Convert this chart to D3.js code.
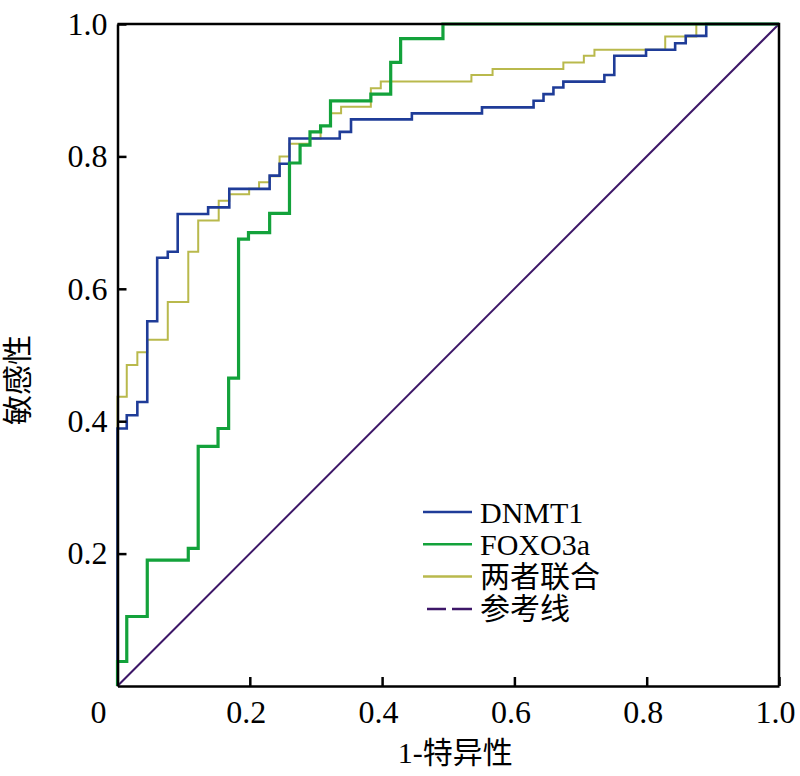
<!DOCTYPE html>
<html>
<head>
<meta charset="utf-8">
<script src="https://cdn.jsdelivr.net/npm/d3@7"></script>
<style>
    body { margin: 0; background: #ffffff; }
    text { font-family: "Liberation Serif", "Noto Sans CJK SC", serif; fill: #000000; }
    .axis path, .axis line { stroke: #000000; stroke-width: 2.5; }
</style>
</head>
<body>
<div id="graph"></div>
<script>
    // ROC step vertices (1 - specificity, sensitivity)
    var dnmt1Fpr = [0, 0, 0.014, 0.030, 0.045, 0.060, 0.076, 0.091, 0.137, 0.169, 0.230, 0.245, 0.260, 0.336, 0.353, 0.445, 0.551, 0.629, 0.644, 0.659, 0.674, 0.736, 0.751, 0.799, 0.843, 0.859, 0.890, 1];
    var dnmt1Tpr = [0, 0.389, 0.409, 0.429, 0.551, 0.647, 0.656, 0.713, 0.723, 0.751, 0.771, 0.789, 0.827, 0.837, 0.856, 0.865, 0.874, 0.884, 0.894, 0.904, 0.913, 0.923, 0.952, 0.961, 0.971, 0.982, 1.0, 1.0];

    var foxo3aFpr = [0, 0, 0.014, 0.045, 0.107, 0.122, 0.152, 0.168, 0.183, 0.198, 0.230, 0.260, 0.276, 0.291, 0.307, 0.322, 0.383, 0.413, 0.428, 0.492, 1];
    var foxo3aTpr = [0, 0.037, 0.105, 0.190, 0.208, 0.362, 0.389, 0.465, 0.675, 0.685, 0.714, 0.790, 0.817, 0.837, 0.846, 0.884, 0.894, 0.942, 0.978, 1.0, 1.0];

    var combinedFpr = [0, 0, 0.014, 0.030, 0.045, 0.076, 0.107, 0.122, 0.153, 0.169, 0.199, 0.214, 0.230, 0.245, 0.260, 0.291, 0.307, 0.322, 0.338, 0.383, 0.398, 0.535, 0.567, 0.674, 0.705, 0.721, 0.828, 0.875, 1];
    var combinedTpr = [0, 0.437, 0.485, 0.504, 0.523, 0.580, 0.656, 0.703, 0.733, 0.743, 0.751, 0.761, 0.770, 0.800, 0.819, 0.827, 0.846, 0.865, 0.875, 0.903, 0.913, 0.923, 0.932, 0.942, 0.952, 0.961, 0.981, 1.0, 1.0];

    var referenceFpr = [0, 1];
    var referenceTpr = [0, 1];

    var tickValues = [0.2, 0.4, 0.6, 0.8, 1.0];
    var seriesNames = ['DNMT1', 'FOXO3a', '两者联合', '参考线'];
    var seriesColors = ['#1f3c98', '#13a23b', '#b9b94c', '#3d1768'];
    var seriesWidths = [2.6, 3.2, 2, 2];

    // Pair the arrays into point lists
    var toPoints = function (xs, ys)
    {
        return xs.map (function (x, i) { return { x: x, y: ys[i] }; });
    }

    var series = [
        toPoints (dnmt1Fpr, dnmt1Tpr),
        toPoints (foxo3aFpr, foxo3aTpr),
        toPoints (combinedFpr, combinedTpr),
        toPoints (referenceFpr, referenceTpr)
    ];

    var margin = { top: 24, right: 21, bottom: 90, left: 117.5 };
    var width  = 800 - margin.left - margin.right;
    var height = 776 - margin.top  - margin.bottom;

    var xScale = d3.scaleLinear ()
                   .domain ( [0, 1] )
                   .range ( [0, width] );

    var yScale = d3.scaleLinear ()
                   .domain ( [0, 1] )
                   .range ( [height, 0] );

    var svg = d3.select ('#graph')
                .append ('svg')
                .attr ('width', 800)
                .attr ('height', 776)
                .append ('g')
                .attr ('transform', 'translate(' + margin.left + ',' + margin.top + ')');

    // Step lines for the ROC curves, straight line for the reference
    var stepLine = d3.line ()
                     .x (function (d) { return xScale (d.x); })
                     .y (function (d) { return yScale (d.y); })
                     .curve (d3.curveStepAfter);

    var straightLine = d3.line ()
                         .x (function (d) { return xScale (d.x); })
                         .y (function (d) { return yScale (d.y); });

    // Reference diagonal under the curves
    svg.append ('path')
       .datum (series[3])
       .attr ('fill', 'none')
       .attr ('stroke', seriesColors[3])
       .attr ('stroke-width', seriesWidths[3])
       .attr ('d', straightLine);

    [2, 0, 1].forEach (function (k)
    {
        svg.append ('path')
           .datum (series[k])
           .attr ('fill', 'none')
           .attr ('stroke', seriesColors[k])
           .attr ('stroke-width', seriesWidths[k])
           .attr ('d', stepLine);
    });

    // Axes, ticks pointing inwards
    var xAxis = d3.axisBottom ()
                  .scale (xScale)
                  .tickValues (tickValues)
                  .tickSizeInner (-9)
                  .tickSizeOuter (0)
                  .tickPadding (14)
                  .tickFormat (d3.format ('.1f'));

    var yAxis = d3.axisLeft ()
                  .scale (yScale)
                  .tickValues (tickValues)
                  .tickSizeInner (-9)
                  .tickSizeOuter (0)
                  .tickPadding (10)
                  .tickFormat (d3.format ('.1f'));

    svg.append ('g')
       .attr ('class', 'x axis')
       .attr ('transform', 'translate(0,' + height + ')')
       .call (xAxis);

    svg.append ('g')
       .attr ('class', 'y axis')
       .call (yAxis);

    svg.selectAll ('.axis text')
       .style ('font-size', '32px');

    svg.selectAll ('.x.axis text')
       .attr ('dx', -4);

    // Remaining sides of the box
    svg.append ('path')
       .attr ('d', 'M0,0H' + width + 'V' + height)
       .attr ('fill', 'none')
       .attr ('stroke', '#000000')
       .attr ('stroke-width', 2.5);

    // Shared origin label
    svg.append ('text')
       .attr ('x', xScale (0) - 19)
       .attr ('y', height + 14)
       .attr ('dy', '0.71em')
       .style ('text-anchor', 'middle')
       .style ('font-size', '32px')
       .text ('0');

    // Axis titles
    svg.append ('text')
       .style ('text-anchor', 'middle')
       .style ('font-size', '30px')
       .attr ('x', width * 0.5 + 7)
       .attr ('y', height + 77)
       .text ('1-特异性');

    svg.append ('text')
       .style ('text-anchor', 'middle')
       .style ('font-size', '30px')
       .attr ('transform', 'rotate(-90)')
       .attr ('x', -(380 - margin.top))
       .attr ('y', -margin.left + 28)
       .text ('敏感性');

    // Legend
    var legend = svg.append ('g')
                    .attr ('transform', 'translate(' + (423 - margin.left) + ',' + (512 - margin.top) + ')');

    seriesNames.forEach (function (name, i)
    {
        var row = legend.append ('g')
                        .attr ('transform', 'translate(0,' + (i * 32.3) + ')');

        row.append ('line')
           .attr ('x1', i === 3 ? 4 : 0)
           .attr ('x2', 49)
           .attr ('stroke', seriesColors[i])
           .attr ('stroke-width', 2.5)
           .attr ('stroke-dasharray', i === 3 ? '19,6,25' : null);

        row.append ('text')
           .attr ('x', 57)
           .attr ('dy', '0.35em')
           .style ('font-size', '30px')
           .text (name);
    });
</script>
</body>
</html>
